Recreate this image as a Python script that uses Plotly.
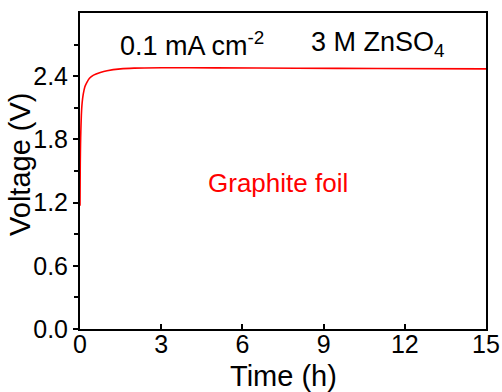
import plotly.graph_objects as go

# Galvanostatic charge curve of graphite foil in 3 M ZnSO4 at 0.1 mA cm^-2
time_h = [0, 0.005, 0.01, 0.02, 0.03, 0.05, 0.08, 0.12, 0.18, 0.25, 0.35,
          0.5, 0.75, 1.0, 1.5, 2.0, 3.0, 5.0, 8.0, 11.0, 15.0]
voltage_v = [1.17, 1.40, 1.58, 1.76, 1.87, 2.03, 2.15, 2.23, 2.30, 2.34, 2.38,
             2.41, 2.435, 2.452, 2.470, 2.477, 2.480, 2.479, 2.476, 2.473, 2.470]

x_ticks = [0, 3, 6, 9, 12, 15]
y_ticks = [0.0, 0.6, 1.2, 1.8, 2.4]

FONT = "Arial, 'Liberation Sans', sans-serif"

fig = go.Figure()
fig.add_trace(go.Scatter(
    x=time_h, y=voltage_v, mode="lines",
    line=dict(color="#ff0000", width=1.6, shape="spline", smoothing=0.6),
    showlegend=False,
))

fig.add_annotation(x=1.4, y=2.71, xref="x", yref="y", xanchor="left", yanchor="middle",
                   text="0.1 mA cm<sup>-2</sup>", showarrow=False,
                   font=dict(family=FONT, size=27, color="black"))
fig.add_annotation(x=8.45, y=2.71, xref="x", yref="y", xanchor="left", yanchor="middle",
                   text="3 M ZnSO<sub>4</sub>", showarrow=False,
                   font=dict(family=FONT, size=27, color="black"))
fig.add_annotation(x=7.3, y=1.39, xref="x", yref="y", xanchor="center", yanchor="middle",
                   text="Graphite foil", showarrow=False,
                   font=dict(family=FONT, size=26, color="#ff0000"))

# axis titles placed just outside the plotting area
fig.add_annotation(x=0.5, y=0, xref="paper", yref="paper", xanchor="center", yanchor="middle",
                   yshift=-47, text="Time (h)", showarrow=False,
                   font=dict(family=FONT, size=29, color="black"))
fig.add_annotation(x=0, y=0.519, xref="paper", yref="paper", xanchor="center", yanchor="middle",
                   xshift=-60, textangle=-90, text="Voltage (V)", showarrow=False,
                   font=dict(family=FONT, size=29, color="black"))

fig.update_layout(
    width=502, height=392,
    margin=dict(l=80, r=16, t=13, b=63),
    paper_bgcolor="white", plot_bgcolor="white",
    font=dict(family=FONT, color="black"),
)
fig.update_xaxes(
    range=[0, 15], tickvals=x_ticks, ticktext=[str(v) for v in x_ticks],
    showgrid=False, zeroline=False, automargin=False,
    showline=True, linecolor="black", linewidth=2, mirror=True,
    ticks="inside", ticklen=5, tickwidth=1.5, tickcolor="black",
    ticklabelstandoff=-8,
    tickfont=dict(family=FONT, size=25),
)
fig.update_yaxes(
    range=[0, 3], tickvals=y_ticks, ticktext=[f"{v:.1f}" for v in y_ticks],
    showgrid=False, zeroline=False, automargin=False,
    showline=True, linecolor="black", linewidth=2, mirror=True,
    ticks="outside", ticklen=5, tickwidth=1.5, tickcolor="black",
    minor=dict(tickvals=[0.3, 0.9, 1.5, 2.1, 2.7], ticks="outside", ticklen=4,
               tickwidth=1.5, tickcolor="black"),
    tickfont=dict(family=FONT, size=25),
)

fig.write_html("out.html")
